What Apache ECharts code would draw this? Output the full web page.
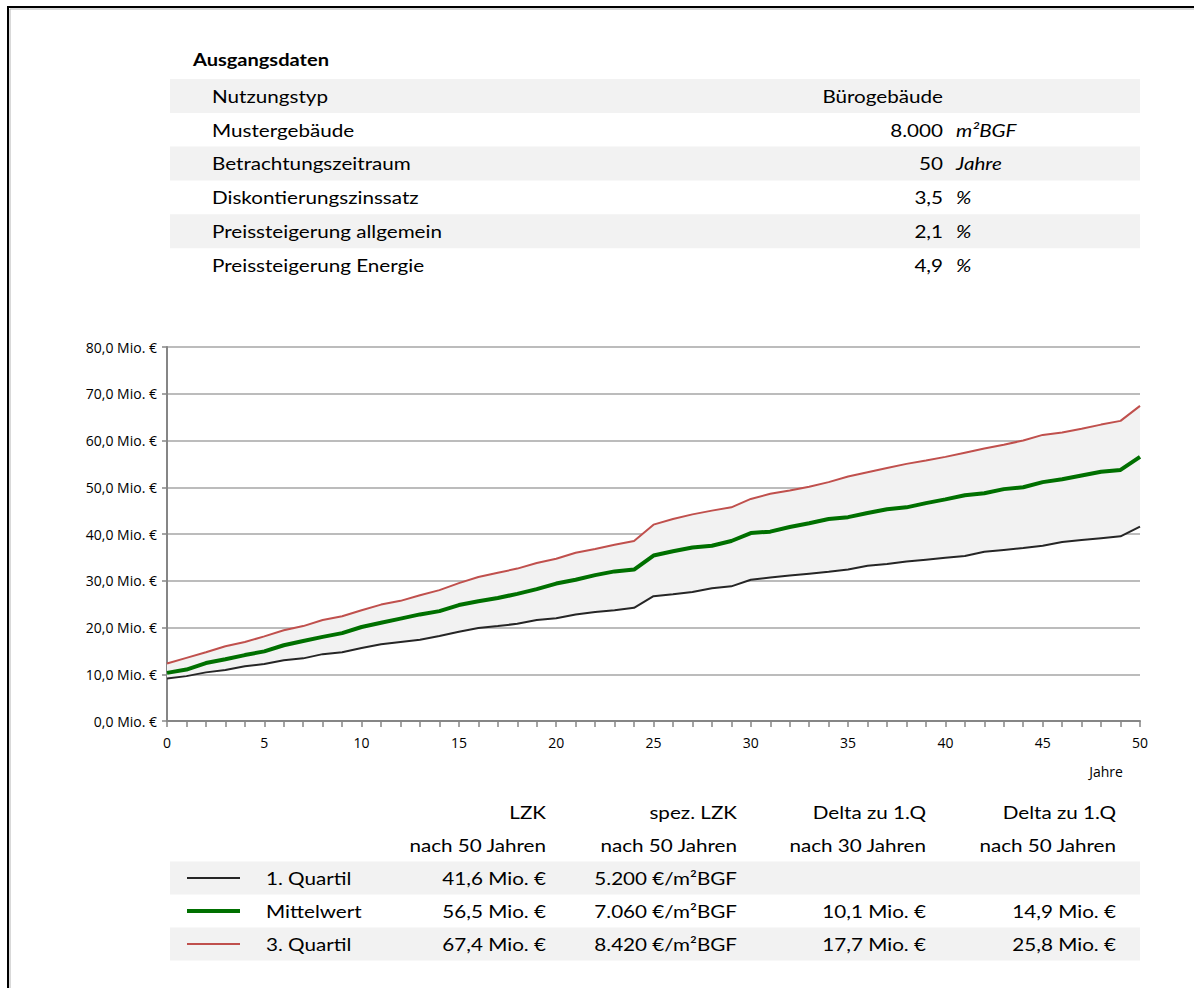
<!DOCTYPE html>
<html>
<head>
<meta charset="utf-8">
<script src="https://cdn.jsdelivr.net/npm/echarts@6/dist/echarts.min.js"></script>
<style>
  html, body { margin: 0; padding: 0; background: #fff; }
  #chart { width: 1194px; height: 988px; }
</style>
</head>
<body>
<div id="chart"></div>
<script>
// Ausgangsdaten
const inputLabels = ['Nutzungstyp', 'Mustergebäude', 'Betrachtungszeitraum', 'Diskontierungszinssatz', 'Preissteigerung allgemein', 'Preissteigerung Energie']
const inputValues = ['Bürogebäude', '8.000', '50', '3,5', '2,1', '4,9']
const inputUnits = ['', 'm²BGF', 'Jahre', '%', '%', '%']

// Jahre 0..50
const years = ['0', '1', '2', '3', '4', '5', '6', '7', '8', '9', '10', '11', '12', '13', '14', '15', '16', '17', '18', '19', '20', '21', '22', '23', '24', '25',
  '26', '27', '28', '29', '30', '31', '32', '33', '34', '35', '36', '37', '38', '39', '40', '41', '42', '43', '44', '45', '46', '47', '48', '49', '50']

// Lebenszykluskosten in Mio. €
const quartil1 = [9.1, 9.6, 10.4, 10.9, 11.7, 12.2, 13.0, 13.4, 14.3, 14.7, 15.6, 16.4, 16.9, 17.4, 18.2, 19.1, 19.9, 20.3, 20.8, 21.6, 22.0, 22.8, 23.3, 23.7, 24.2,
  26.7, 27.1, 27.6, 28.4, 28.8, 30.2, 30.7, 31.1, 31.5, 31.9, 32.4, 33.2, 33.6, 34.1, 34.5, 34.9, 35.3, 36.2, 36.6, 37.0, 37.5, 38.3, 38.7, 39.1, 39.5, 41.6]
const mittelwert = [10.3, 11.0, 12.4, 13.2, 14.1, 14.9, 16.2, 17.1, 18.0, 18.8, 20.1, 21.0, 21.9, 22.8, 23.5, 24.8, 25.6, 26.3, 27.2, 28.2, 29.4, 30.2, 31.2, 32.0, 32.4,
  35.4, 36.3, 37.1, 37.5, 38.5, 40.2, 40.5, 41.5, 42.3, 43.2, 43.6, 44.5, 45.3, 45.7, 46.6, 47.4, 48.3, 48.7, 49.6, 50.0, 51.1, 51.7, 52.5, 53.3, 53.7, 56.5]
const quartil3 = [12.3, 13.5, 14.7, 16.0, 16.9, 18.1, 19.4, 20.3, 21.6, 22.4, 23.7, 24.9, 25.7, 26.9, 28.0, 29.5, 30.8, 31.7, 32.6, 33.8, 34.7, 36.0, 36.8, 37.7, 38.5,
  42.0, 43.2, 44.2, 45.0, 45.7, 47.5, 48.6, 49.3, 50.1, 51.1, 52.3, 53.2, 54.1, 55.0, 55.7, 56.5, 57.4, 58.3, 59.1, 60.0, 61.2, 61.7, 62.5, 63.4, 64.2, 67.4]

// Ergebnistabelle
const summaryHead1 = ['LZK', 'spez. LZK', 'Delta zu 1.Q', 'Delta zu 1.Q']
const summaryHead2 = ['nach 50 Jahren', 'nach 50 Jahren', 'nach 30 Jahren', 'nach 50 Jahren']
const summaryNames = ['1. Quartil', 'Mittelwert', '3. Quartil']
const summaryLzk = ['41,6 Mio. €', '56,5 Mio. €', '67,4 Mio. €']
const summarySpez = ['5.200 €/m²BGF', '7.060 €/m²BGF', '8.420 €/m²BGF']
const summaryDelta30 = ['', '10,1 Mio. €', '17,7 Mio. €']
const summaryDelta50 = ['', '14,9 Mio. €', '25,8 Mio. €']

const colors = ['#262626', '#007000', '#c0504d']
const widths = [2, 4, 2]
const font = '17.5px Lato'
const stretch = 1.18   // Calibri im Original wirkt breiter gesetzt

const chart = echarts.init(document.getElementById('chart'), null, { renderer: 'svg' })

// Text-Helfer fuer die Tabellen
function txt(x, y, text, align, f) {
  return { type: 'text', z: 3, x: x, y: y, scaleX: stretch,
    style: { text: text, font: f || font, fill: '#000', textAlign: align || 'left', textVerticalAlign: 'middle' } }
}

const graphic = []
// Rahmen
graphic.push({ type: 'rect', z: 1, shape: { x: 8, y: 7, width: 1400, height: 1200 }, style: { fill: 'none', stroke: '#000', lineWidth: 2 } })
graphic.push({ type: 'rect', z: 1, shape: { x: 10, y: 9, width: 1400, height: 1200 }, style: { fill: 'none', stroke: '#b4b4b4', lineWidth: 1 } })

// Ausgangsdaten
graphic.push(txt(193, 60, 'Ausgangsdaten', 'left', 'bold 17px Lato'))
inputLabels.forEach((label, i) => {
  const yc = 96 + i * 33.8
  if (i % 2 === 0) {
    graphic.push({ type: 'rect', z: 2, shape: { x: 170, y: yc - 17, width: 970, height: 34 }, style: { fill: '#f2f2f2' } })
  }
  graphic.push(txt(212, yc, label))
  graphic.push(txt(943, yc, inputValues[i], 'right'))
  if (inputUnits[i]) graphic.push(txt(956, yc, inputUnits[i], 'left', 'italic ' + font))
})

// Ergebnistabelle
const colRight = [546, 737, 926, 1116]
summaryHead1.forEach((h, j) => {
  graphic.push(txt(colRight[j], 812, h, 'right'))
  graphic.push(txt(colRight[j], 845, summaryHead2[j], 'right'))
})
summaryNames.forEach((name, i) => {
  const yc = 878 + i * 33
  if (i % 2 === 0) {
    graphic.push({ type: 'rect', z: 2, shape: { x: 170, y: yc - 16.5, width: 970, height: 33 }, style: { fill: '#f2f2f2' } })
  }
  graphic.push({ type: 'line', z: 3, shape: { x1: 187, y1: yc, x2: 240, y2: yc }, style: { stroke: colors[i], lineWidth: widths[i] } })
  graphic.push(txt(266, yc, name))
  const cells = [summaryLzk[i], summarySpez[i], summaryDelta30[i], summaryDelta50[i]]
  cells.forEach((c, j) => { if (c) graphic.push(txt(colRight[j], yc, c, 'right')) })
})
// Achsentitel
graphic.push({ type: 'text', z: 3, x: 1106, y: 771, style: { text: 'Jahre', font: '14px "Open Sans"', fill: '#000', textAlign: 'center', textVerticalAlign: 'middle' } })

const axisColor = '#868686'
const axisFont = { color: '#000', fontFamily: 'Open Sans', fontSize: 14 }
const option = {
  animation: false,
  backgroundColor: '#fff',
  grid: { left: 167, right: 54, top: 347, bottom: 267, containLabel: false },
  xAxis: {
    type: 'category', data: years, boundaryGap: false,
    axisLine: { lineStyle: { color: axisColor, width: 2 } },
    axisTick: { show: true, interval: 0, length: 6, lineStyle: { color: axisColor, width: 1.5 } },
    splitLine: { show: false },
    axisLabel: Object.assign({ interval: 4, margin: 14 }, axisFont)
  },
  yAxis: {
    type: 'value', min: 0, max: 80, interval: 10,
    axisLine: { show: true, lineStyle: { color: axisColor, width: 2 } },
    axisTick: { show: true, length: 5, lineStyle: { color: axisColor, width: 1.5 } },
    splitLine: { lineStyle: { color: '#a6a6a6', width: 1.5 } },
    axisLabel: Object.assign({ margin: 10, formatter: v => v.toFixed(1).replace('.', ',') + ' Mio. €' }, axisFont)
  },
  series: [
    { name: 'band-base', type: 'line', stack: 'band', data: quartil1, showSymbol: false, silent: true, lineStyle: { opacity: 0 } },
    { name: 'band', type: 'line', stack: 'band', data: quartil3.map((v, i) => v - quartil1[i]), showSymbol: false, silent: true,
      lineStyle: { opacity: 0 }, areaStyle: { color: '#f2f2f2', opacity: 1 } },
    { name: '1. Quartil', type: 'line', data: quartil1, showSymbol: false, lineStyle: { color: colors[0], width: widths[0] }, z: 5 },
    { name: '3. Quartil', type: 'line', data: quartil3, showSymbol: false, lineStyle: { color: colors[2], width: widths[2] }, z: 5 },
    { name: 'Mittelwert', type: 'line', data: mittelwert, showSymbol: false, lineStyle: { color: colors[1], width: widths[1] }, z: 6 }
  ],
  graphic: graphic
}
chart.setOption(option)
</script>
</body>
</html>
